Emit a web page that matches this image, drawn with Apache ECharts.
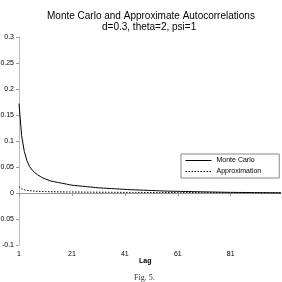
<!DOCTYPE html>
<html>
<head>
<meta charset="utf-8">
<script src="https://cdn.jsdelivr.net/npm/echarts@6/dist/echarts.min.js"></script>
<style>
html, body { margin: 0; padding: 0; background: #fff; }
#chart { width: 282px; height: 282px; }
</style>
</head>
<body>
<div id="chart"></div>
<script>
// lags 1..100
const lags = [];
for (let i = 1; i <= 100; i++) lags.push(i);

const monteCarlo = [
  0.172, 0.110, 0.080, 0.062, 0.051, 0.044, 0.039, 0.035, 0.032, 0.029,
  0.027, 0.025, 0.023, 0.022, 0.021, 0.020, 0.019, 0.018, 0.017, 0.016,
  0.015, 0.0145, 0.014, 0.0135, 0.013, 0.0125, 0.012, 0.0115, 0.011, 0.0105,
  0.010, 0.0097, 0.0094, 0.0091, 0.0088, 0.0085, 0.0082, 0.0079, 0.0076, 0.0073,
  0.007, 0.0067, 0.0064, 0.0062, 0.006, 0.0058, 0.0056, 0.0054, 0.0052, 0.005,
  0.0048, 0.0046, 0.0044, 0.0042, 0.004, 0.0038, 0.0036, 0.0035, 0.0034, 0.0033,
  0.0032, 0.0031, 0.003, 0.0029, 0.0028, 0.0027, 0.0026, 0.0025, 0.0024, 0.0023,
  0.0022, 0.0021, 0.002, 0.0019, 0.0018, 0.0017, 0.0016, 0.0015, 0.0014, 0.0013,
  0.0012, 0.0012, 0.0011, 0.0011, 0.001, 0.001, 0.0009, 0.0009, 0.0008, 0.0008,
  0.0007, 0.0007, 0.0006, 0.0006, 0.0005, 0.0005, 0.0004, 0.0004, 0.0003, 0.0003
];

const approximation = [
  0.012, 0.008, 0.0062, 0.0052, 0.0045, 0.004, 0.0036, 0.0033, 0.003, 0.0028,
  0.0027, 0.0026, 0.0025, 0.0024, 0.0023, 0.0022, 0.0021, 0.0021, 0.002, 0.002,
  0.0019, 0.0019, 0.0018, 0.0018, 0.0017, 0.0017, 0.0016, 0.0016, 0.0016, 0.0015,
  0.0015, 0.0015, 0.0014, 0.0014, 0.0014, 0.0013, 0.0013, 0.0013, 0.0013, 0.0012,
  0.0012, 0.0012, 0.0012, 0.0011, 0.0011, 0.0011, 0.0011, 0.0011, 0.001, 0.001,
  0.001, 0.001, 0.001, 0.001, 0.0009, 0.0009, 0.0009, 0.0009, 0.0009, 0.0009,
  0.0009, 0.0008, 0.0008, 0.0008, 0.0008, 0.0008, 0.0008, 0.0008, 0.0008, 0.0007,
  0.0007, 0.0007, 0.0007, 0.0007, 0.0007, 0.0007, 0.0007, 0.0007, 0.0006, 0.0006,
  0.0006, 0.0006, 0.0006, 0.0006, 0.0006, 0.0006, 0.0006, 0.0006, 0.0006, 0.0005,
  0.0005, 0.0005, 0.0005, 0.0005, 0.0005, 0.0005, 0.0005, 0.0005, 0.0005, 0.0005
];

const chart = echarts.init(document.getElementById('chart'));

const titleFont = { fontFamily: 'Arial, Liberation Sans', fontSize: 10, fontWeight: 'normal', color: '#000' };

const options = {
  animation: false,
  title: [
    { text: 'Monte Carlo and Approximate Autocorrelations', left: 42, top: 6, textStyle: titleFont },
    { text: 'd=0.3, theta=2, psi=1', left: 97, top: 17, textStyle: titleFont },
    {
      text: 'Lag',
      left: 134,
      top: 253,
      textStyle: { fontFamily: 'Arial, Liberation Sans', fontSize: 7, fontWeight: 'bold', color: '#000' }
    },
    {
      text: 'Fig. 5.',
      left: 129,
      top: 269,
      textStyle: { fontFamily: 'Liberation Serif, Times New Roman', fontSize: 8, fontWeight: 'normal', color: '#333' }
    }
  ],
  legend: {
    orient: 'vertical',
    left: 181,
    top: 154,
    padding: [3, 18, 3, 4],
    itemGap: 4,
    itemWidth: 26,
    itemHeight: 8,
    borderColor: '#888',
    borderWidth: 1,
    itemStyle: { opacity: 0 },
    lineStyle: { width: 1 },
    textStyle: { fontFamily: 'Arial, Liberation Sans', fontSize: 7, color: '#000' },
    data: ['Monte Carlo', 'Approximation']
  },
  grid: { left: 19, right: 1, top: 37, bottom: 37, outerBoundsMode: 'none' },
  xAxis: {
    type: 'category',
    data: lags,
    boundaryGap: false,
    axisLine: { onZero: true, lineStyle: { color: '#999', width: 1 } },
    axisTick: { interval: 19, length: 3, lineStyle: { color: '#999' } },
    axisLabel: { interval: 19, fontFamily: 'Arial, Liberation Sans', fontSize: 7, color: '#000', margin: 6 },
    splitLine: { show: false }
  },
  yAxis: {
    type: 'value',
    min: -0.1,
    max: 0.3,
    interval: 0.05,
    axisLine: { show: true, lineStyle: { color: '#bbb', width: 1 } },
    axisTick: { show: true, length: 3, lineStyle: { color: '#999' } },
    axisLabel: { fontFamily: 'Arial, Liberation Sans', fontSize: 7, color: '#000', margin: 5,
      formatter: v => String(Math.round(v * 100) / 100) },
    splitLine: { show: false }
  },
  series: [
    {
      name: 'Monte Carlo',
      type: 'line',
      data: monteCarlo,
      symbol: 'none',
      lineStyle: { color: '#000', width: 1 },
      itemStyle: { color: '#000' }
    },
    {
      name: 'Approximation',
      type: 'line',
      data: approximation,
      symbol: 'none',
      lineStyle: { color: '#000', width: 1, type: [1.5, 1.5] },
      itemStyle: { color: '#000' }
    }
  ]
};

chart.setOption(options);
</script>
</body>
</html>
